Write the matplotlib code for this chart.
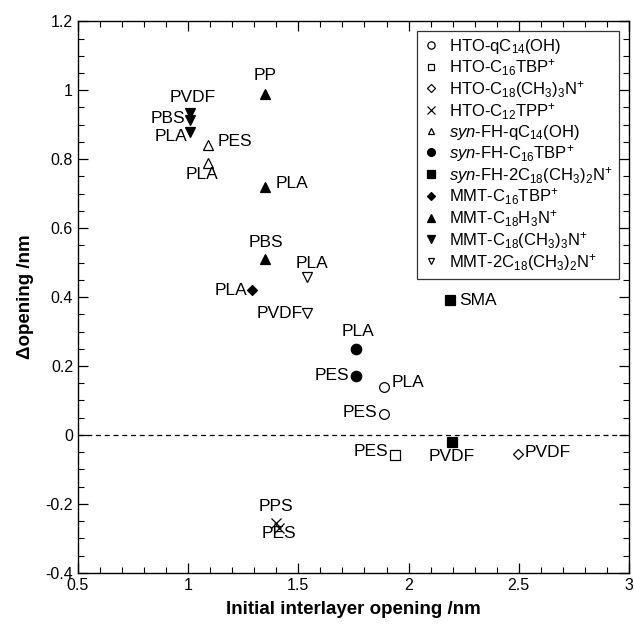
import matplotlib
matplotlib.use('Agg')
import matplotlib.pyplot as plt
from matplotlib.ticker import MultipleLocator

plt.rcParams['font.family'] = ['Liberation Sans', 'DejaVu Sans']
plt.rcParams['mathtext.fontset'] = 'custom'
plt.rcParams['mathtext.rm'] = 'Liberation Sans'
plt.rcParams['mathtext.it'] = 'Liberation Sans:italic'

# series names (legend order)
names = [
    'HTO-qC$_{14}$(OH)',
    'HTO-C$_{16}$TBP$^{+}$',
    'HTO-C$_{18}$(CH$_{3}$)$_{3}$N$^{+}$',
    'HTO-C$_{12}$TPP$^{+}$',
    r'$\mathit{syn}$-FH-qC$_{14}$(OH)',
    r'$\mathit{syn}$-FH-C$_{16}$TBP$^{+}$',
    r'$\mathit{syn}$-FH-2C$_{18}$(CH$_{3}$)$_{2}$N$^{+}$',
    'MMT-C$_{16}$TBP$^{+}$',
    'MMT-C$_{18}$H$_{3}$N$^{+}$',
    'MMT-C$_{18}$(CH$_{3}$)$_{3}$N$^{+}$',
    'MMT-2C$_{18}$(CH$_{3}$)$_{2}$N$^{+}$',
]

# initial interlayer opening (nm), delta opening (nm), polymer per point
x_vals = [
    [1.89, 1.89],
    [1.94],
    [2.495],
    [1.40, 1.41],
    [1.09, 1.09],
    [1.76, 1.76],
    [2.19, 2.195],
    [1.29],
    [1.35, 1.35, 1.35],
    [1.01, 1.01, 1.01],
    [1.54, 1.54],
]
y_vals = [
    [0.14, 0.06],
    [-0.058],
    [-0.056],
    [-0.255, -0.27],
    [0.84, 0.79],
    [0.25, 0.17],
    [0.39, -0.022],
    [0.42],
    [0.99, 0.72, 0.51],
    [0.935, 0.913, 0.879],
    [0.459, 0.353],
]
polymers = [
    ['PLA', 'PES'],
    ['PES'],
    ['PVDF'],
    ['PPS', 'PES'],
    ['PES', 'PLA'],
    ['PLA', 'PES'],
    ['SMA', 'PVDF'],
    ['PLA'],
    ['PP', 'PLA', 'PBS'],
    ['PVDF', 'PBS', 'PLA'],
    ['PLA', 'PVDF'],
]

# marker styles
markers = ['o', 's', 'D', 'x', '^', 'o', 's', 'D', '^', 'v', 'v']
filled = [False, False, False, True, False, True, True, True, True, True, False]
msizes = [7, 6.5, 5, 7, 6.5, 7.5, 7, 5.5, 7, 7, 6.5]

# label placement (offset pixels, ha)
label_pos = [
    [(7, 4, 'left'), (-7, 2, 'right')],
    [(-7, 3, 'right')],
    [(7, 2, 'left')],
    [(0, 16, 'center'), (0, -6, 'center')],
    [(10, 4, 'left'), (-6, -12, 'center')],
    [(2, 17, 'center'), (-6, 1, 'right')],
    [(9, 0, 'left'), (0, -14, 'center')],
    [(-5, 0, 'right')],
    [(0, 18, 'center'), (10, 3, 'left'), (1, 17, 'center')],
    [(2, 15, 'center'), (-5, 2, 'right'), (-3, -5, 'right')],
    [(5, 13, 'center'), (-4, 0, 'right')],
]

fig = plt.figure(figsize=(6.34, 6.26), dpi=100)
ax = fig.add_axes([0.123, 0.085, 0.869, 0.881])

ax.axhline(0, color='black', lw=0.9, ls=(0, (4, 3)))

for i in range(len(names)):
    fc = 'black' if filled[i] else 'white'
    ax.plot(x_vals[i], y_vals[i], ls='none', marker=markers[i], ms=msizes[i],
            mfc=fc, mec='black', mew=0.9, color='black', label=names[i])
    for j in range(len(x_vals[i])):
        dx, dy, ha = label_pos[i][j]
        ax.annotate(polymers[i][j], (x_vals[i][j], y_vals[i][j]),
                    xytext=(dx, dy), textcoords='offset pixels',
                    ha=ha, va='center', fontsize=12.5)

ax.set_xlim(0.5, 3)
ax.set_ylim(-0.4, 1.2)
ax.xaxis.set_major_locator(MultipleLocator(0.5))
ax.xaxis.set_minor_locator(MultipleLocator(0.1))
ax.yaxis.set_major_locator(MultipleLocator(0.2))
ax.yaxis.set_minor_locator(MultipleLocator(0.05))
ax.set_xticks([0.5, 1, 1.5, 2, 2.5, 3])
ax.set_xticklabels(['0.5', '1', '1.5', '2', '2.5', '3'])
ax.set_yticks([-0.4, -0.2, 0, 0.2, 0.4, 0.6, 0.8, 1, 1.2])
ax.set_yticklabels(['-0.4', '-0.2', '0', '0.2', '0.4', '0.6', '0.8', '1', '1.2'])
ax.tick_params(which='both', direction='in', top=True, right=True, labelsize=11.5)
ax.tick_params(which='major', length=7, width=0.9)
ax.tick_params(which='minor', length=4, width=0.8)
for s in ax.spines.values():
    s.set_linewidth(1.0)

ax.set_xlabel('Initial interlayer opening /nm', fontsize=13.5, fontweight='bold', labelpad=6)
ax.set_ylabel('Δopening /nm', fontsize=13.5, fontweight='bold', labelpad=8)

leg = ax.legend(loc='upper right', fontsize=12, frameon=True, fancybox=False,
                edgecolor='black', handlelength=1.0, handletextpad=0.6,
                labelspacing=0.06, borderaxespad=0.6, borderpad=0.35,
                numpoints=1, markerscale=0.75)
leg.get_frame().set_linewidth(0.9)

plt.savefig('out.png', dpi=100)
